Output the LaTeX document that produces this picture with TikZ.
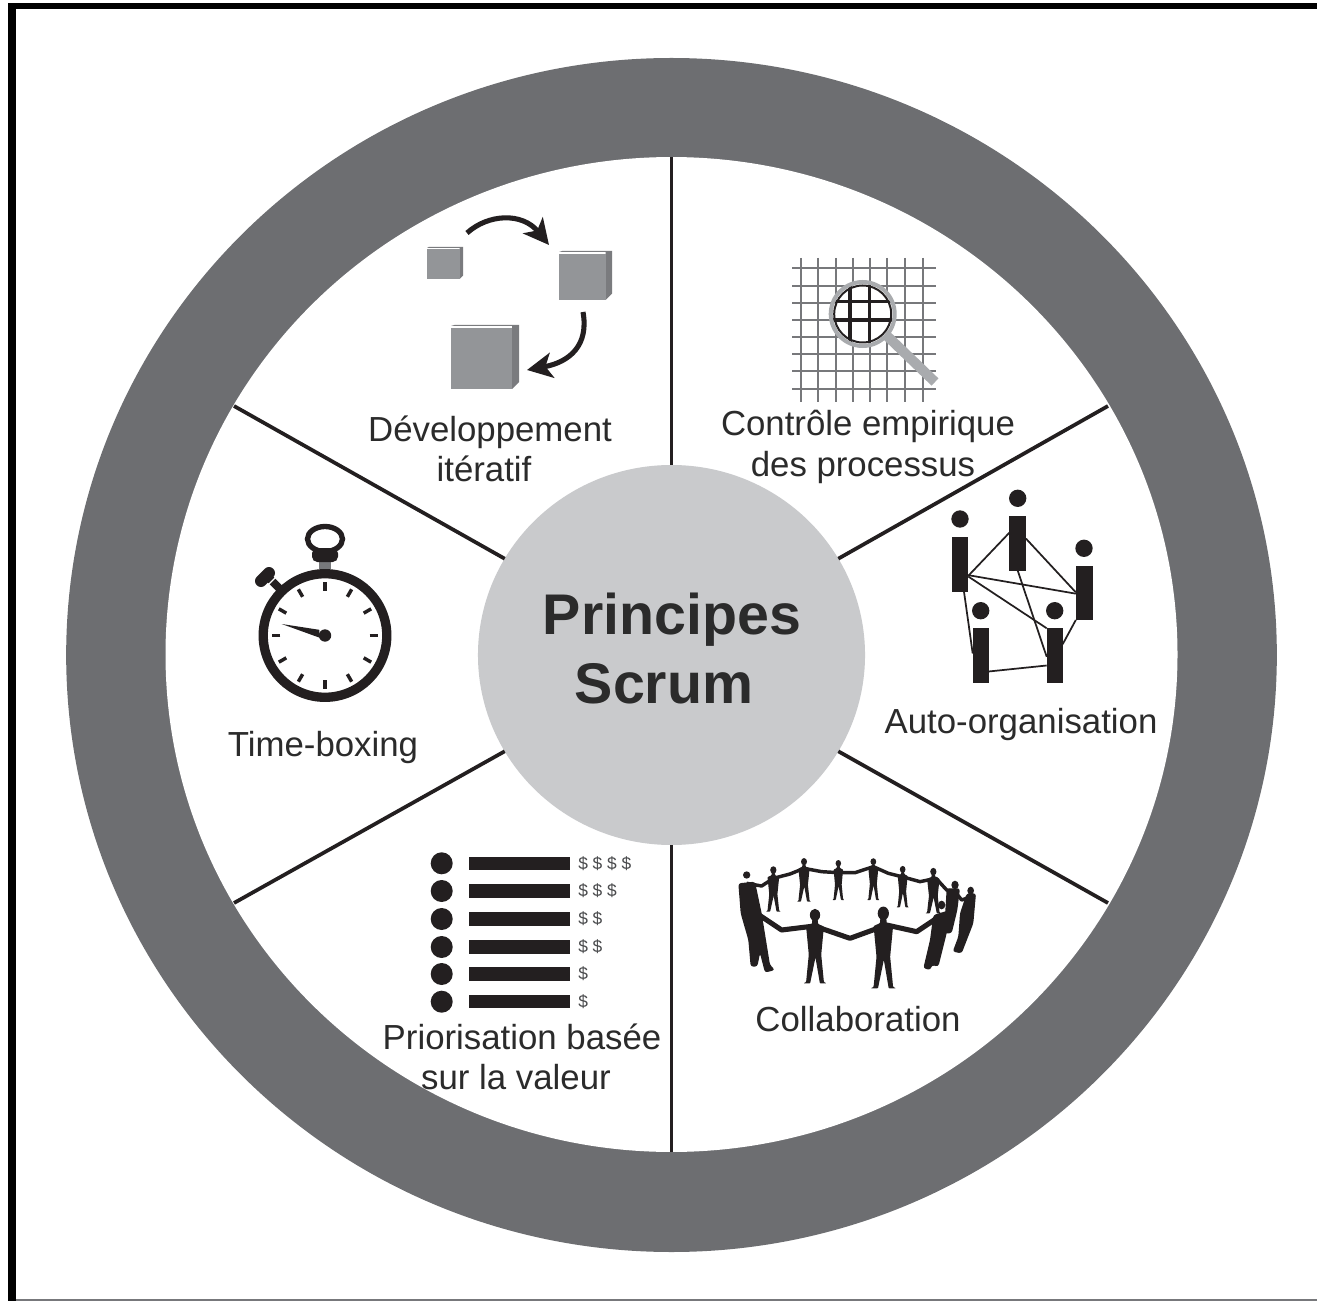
\documentclass[tikz,border=0pt]{standalone}
\usepackage{fontspec}
\setmainfont{Liberation Sans}
\usetikzlibrary{shapes.geometric,arrows.meta}
\definecolor{ringgray}{HTML}{6D6E71}
\definecolor{hubgray}{HTML}{C9CACC}
\definecolor{cubefront}{HTML}{939598}
\definecolor{cubeside}{HTML}{7A7B7E}
\definecolor{lensgray}{HTML}{A9ABAE}
\definecolor{gridgray}{HTML}{77787B}
\definecolor{ink}{HTML}{231F20}
\definecolor{textink}{HTML}{2B2B2B}
\definecolor{dollargray}{HTML}{4A4B4D}
\tikzset{
  disc/.style={shape=ellipse,inner sep=0pt,outer sep=0pt},
  spoke/.style={draw=ink,line width=2.8pt},
  lbl/.style={text=textink,inner sep=0pt,anchor=base,font=\fontsize{26.1}{30}\selectfont},
  hubtext/.style={text=textink,inner sep=0pt,anchor=base,font=\fontsize{43}{50}\selectfont\bfseries},
  curvearrow/.style={draw=ink,line width=3.8pt,-{Stealth[length=19pt,width=19pt,inset=5pt]}},
  gridline/.style={draw=gridgray,line width=1.6pt},
  lensline/.style={draw=ink,line width=2.3pt},
  bar/.style={shape=rectangle,fill=ink,inner sep=0pt,outer sep=0pt},
  head/.style={shape=circle,fill=ink,inner sep=0pt,outer sep=0pt},
  linkline/.style={draw=ink,line width=1.3pt},
  dollars/.style={text=dollargray,inner sep=0pt,anchor=west,font=\fontsize{13}{15}\selectfont},
}
\newcommand{\cubeshape}[5]{%
  \fill[cubeside] (#1,#2+1) -- (#1+#5*.5,#2) -- (#3,#2) -- (#3,#4-#5) -- (#3-#5,#4) -- (#3-#5,#2+1) -- cycle;
  \fill[cubefront] (#1,#2+#5*.5) rectangle (#3-#5,#4);
}
% a silhouette: head x, head y, foot y, half-width factor
\newcommand{\silhouette}[4]{%
  \pgfmathsetmacro{\hh}{#3-#2}
  \pgfmathsetmacro{\ww}{#4*\hh}
  \fill[ink] (#1,#2) ellipse ({.075*\hh} and {.09*\hh});
  \fill[ink,rounded corners=.5pt] (#1-.04*\hh,#2+.07*\hh) -- (#1+.04*\hh,#2+.07*\hh) -- (#1+.045*\hh,#2+.13*\hh)
    -- (#1+\ww,#2+.17*\hh) -- (#1+.7*\ww,#2+.58*\hh)
    -- (#1+\ww,#3-.02*\hh) -- (#1+1.3*\ww,#3) -- (#1+.55*\ww,#3) -- (#1+.05*\ww,#2+.62*\hh)
    -- (#1-.55*\ww,#3) -- (#1-1.3*\ww,#3) -- (#1-\ww,#3-.02*\hh) -- (#1-.7*\ww,#2+.58*\hh)
    -- (#1-\ww,#2+.17*\hh) -- (#1-.045*\hh,#2+.13*\hh) -- cycle;
}
\begin{document}
\begin{tikzpicture}[x=0.75pt,y=-0.75pt]
\useasboundingbox (0,0) rectangle (1317,1301);
% frame
\fill[black] (8,3) rectangle (1317,9.5);
\fill[black] (8,3) rectangle (16,1301);
\fill[gridgray] (16,1299) rectangle (1317,1301);
% wheel
\node[disc,fill=ringgray,minimum width=908pt,minimum height=895.5pt] (ring) at (671.5,655) {};
\node[disc,fill=white,minimum width=759pt,minimum height=746.2pt] (rim) at (671.5,654.5) {};
\node[disc,fill=hubgray,minimum width=290.3pt,minimum height=285pt] (hub) at (671.5,655) {};
\coordinate (endUR) at (1108,406);
\coordinate (endUL) at (234,406);
\coordinate (endLL) at (234,903);
\coordinate (endLR) at (1108,903);
\draw[spoke] (hub.30) -- (endUR);
\draw[spoke] (hub.150) -- (endUL);
\draw[spoke] (hub.210) -- (endLL);
\draw[spoke] (hub.330) -- (endLR);
\draw[spoke] (hub.90) -- (rim.90);
\draw[spoke] (hub.270) -- (rim.270);
% hub text
\node[hubtext] (hubA) at (672,634) {Principes};
\node[hubtext] (hubB) at (664,703) {Scrum};
% labels
\node[lbl] (devA) at (490,442) {Développement};
\node[lbl] (devB) at (484,482) {itératif};
\node[lbl] (ctrA) at (868,436) {Contrôle empirique};
\node[lbl] (ctrB) at (863,477) {des processus};
\node[lbl] (auto) at (1021,733) {Auto-organisation};
\node[lbl] (coll) at (858,1031) {Collaboration};
\node[lbl] (priA) at (522,1049) {Priorisation basée};
\node[lbl] (priB) at (516,1089) {sur la valeur};
\node[lbl] (time) at (323,756) {Time-boxing};
% cubes and arrows
\cubeshape{427}{247}{463}{279}{3.5}
\cubeshape{559}{251}{612}{300}{6.5}
\cubeshape{451}{325}{519}{389}{7}
\coordinate (arrA1) at (467,233);
\coordinate (arrA2) at (549,245);
\coordinate (arrB1) at (583,312);
\coordinate (arrB2) at (527,370);
\draw[curvearrow] (arrA1) .. controls (488,214) and (522,212) .. (arrA2);
\draw[curvearrow] (arrB1) .. controls (589,345) and (570,362) .. (arrB2);
% grid and magnifier
\foreach \x in {801,818.3,835.7,852.7,870,887.3,904.7,922.7}{\draw[gridline] (\x,258) -- (\x,402);}
\foreach \y in {268.3,285.7,302.7,320,337.3,354,371.3,388.7}{\draw[gridline] (792,\y) -- (936,\y);}
\draw[draw=lensgray,line width=7.5pt] (885,334) -- (935,382);
\fill[white] (862.7,314) circle (30);
\begin{scope}
  \clip (862.7,314) circle (30);
  \foreach \x in {850,869.5}{\draw[lensline] (\x,280) -- (\x,350);}
  \foreach \y in {301.7,320}{\draw[lensline] (830,\y) -- (895,\y);}
\end{scope}
\draw[draw=lensgray,line width=3pt] (862.7,314) circle (32);
\draw[draw=ink,line width=1.5pt] (862.7,314) circle (28.5);
% network of people
\node[bar,minimum width=12.4pt,minimum height=40.8pt] (p1) at (960,564.5) {};
\node[bar,minimum width=12.4pt,minimum height=41pt] (p2) at (1017.7,543.3) {};
\node[bar,minimum width=12.6pt,minimum height=40.5pt] (p3) at (1084.2,593) {};
\node[bar,minimum width=12pt,minimum height=40.8pt] (p4) at (980.7,655.5) {};
\node[bar,minimum width=12pt,minimum height=40.8pt] (p5) at (1054.7,655.5) {};
\node[head,minimum size=13pt] (h1) at (960,519) {};
\node[head,minimum size=13pt] (h2) at (1017.7,498.3) {};
\node[head,minimum size=13pt] (h3) at (1084,548.3) {};
\node[head,minimum size=13pt] (h4) at (980.7,610.7) {};
\node[head,minimum size=13pt] (h5) at (1054.7,610.7) {};
\draw[linkline] ([yshift=-8.5pt]p1.east) -- ([yshift=8pt]p2.west);
\draw[linkline] ([yshift=3.5pt]p2.east) -- ([yshift=.5pt]p3.west);
\draw[linkline] ([yshift=-8pt]p1.east) -- ([yshift=-.5pt]p3.west);
\draw[linkline] ([yshift=-9pt]p1.east) -- (p5.north west);
\draw[linkline] ([xshift=3pt]p1.south) -- ([yshift=1.5pt]p4.west);
\draw[linkline] (p2.south) -- ([yshift=-1pt]p5.west);
\draw[linkline] ([yshift=-12pt]p4.east) -- ([yshift=-7.5pt]p5.west);
\draw[linkline] (p3.south west) -- ([yshift=8.5pt]p5.east);
% circle of people
\begin{scope}[shift={(720,850)},x=.25pt,y=-.25pt]
  \draw[ink,line width=2.6pt,line join=round] (80,100) -- (125,108) -- (160,85) -- (210,72) -- (252,55) -- (305,65) -- (355,68) -- (405,68) -- (460,50) -- (505,70) -- (553,82) -- (600,95) -- (648,85) -- (680,120) -- (705,125) -- (725,150) -- (755,140);
  \draw[ink,line width=3.8pt,line join=round] (110,190) -- (185,240) -- (283,228) -- (390,265) -- (500,225) -- (590,245) -- (650,205);
  \fill[ink,rounded corners=2pt] (55,100) -- (105,95) -- (125,190) -- (150,345) -- (165,360) -- (135,368) -- (120,310) -- (112,350) -- (92,350) -- (85,270) -- (62,190) -- cycle;
  \fill[ink,rounded corners=2pt] (640,195) -- (690,180) -- (680,250) -- (655,350) -- (635,345) -- (632,360) -- (610,355) -- (630,270) -- cycle;
  \fill[ink,rounded corners=2pt] (680,115) -- (720,115) -- (712,180) -- (695,250) -- (672,250) -- cycle;
  \fill[ink,rounded corners=2pt] (740,130) -- (768,130) -- (760,220) -- (725,310) -- (698,305) -- (715,260) -- (720,190) -- cycle;
  \fill[ink] (80,75) ellipse (11 and 11);
  \silhouette{160}{60}{185}{.14}
  \silhouette{252}{35}{155}{.14}
  \silhouette{355}{40}{150}{.13}
  \silhouette{460}{35}{150}{.13}
  \silhouette{548}{58}{172}{.13}
  \silhouette{640}{65}{190}{.15}
  \fill[ink] (705,105) ellipse (11 and 13);
  \fill[ink] (752,122) ellipse (10 and 12);
  \fill[ink] (665,165) ellipse (11 and 13);
  \fill[ink] (100,155) ellipse (12 and 14);
  \silhouette{285}{195}{400}{.13}
  \silhouette{490}{190}{415}{.13}
\end{scope}
% priority list
\foreach \y/\d in {863.3/{\$ \$ \$ \$},891/{\$ \$ \$},919/{\$ \$},947/{\$ \$},974/{\$},1001.7/{\$}}{
  \fill[ink] (441.7,\y) circle (11);
  \fill[ink] (469,\y-6.7) rectangle (570,\y+6.7);
  \node[dollars] at (578,\y) {\d};
}
% stopwatch
\draw[ink,line width=4pt] (325,539) ellipse (17.5 and 12.5);
\fill[gridgray] (319,560) rectangle (331,569);
\fill[ink,rounded corners=4pt] (312,548) rectangle (338,562);
\draw[ink,line width=7pt] (325,635.5) circle (61.8);
\foreach \a in {0,30,...,330}{\draw[ink,line width=2.6pt] (325,635.5) ++(\a:44.7) -- ++(\a:8.6);}
\fill[ink] (325,635.5) circle (6.2);
\fill[ink] (281.7,624) -- (319.3,629.8) -- (319.3,637.6) -- cycle;
\draw[ink,line width=6pt] (270,579) -- (282,591);
\draw[white,line width=.8pt] (268,585) -- (276,577);
\draw[ink,line width=9pt,line cap=round] (261,581) -- (269,573);
\end{tikzpicture}
\end{document}
